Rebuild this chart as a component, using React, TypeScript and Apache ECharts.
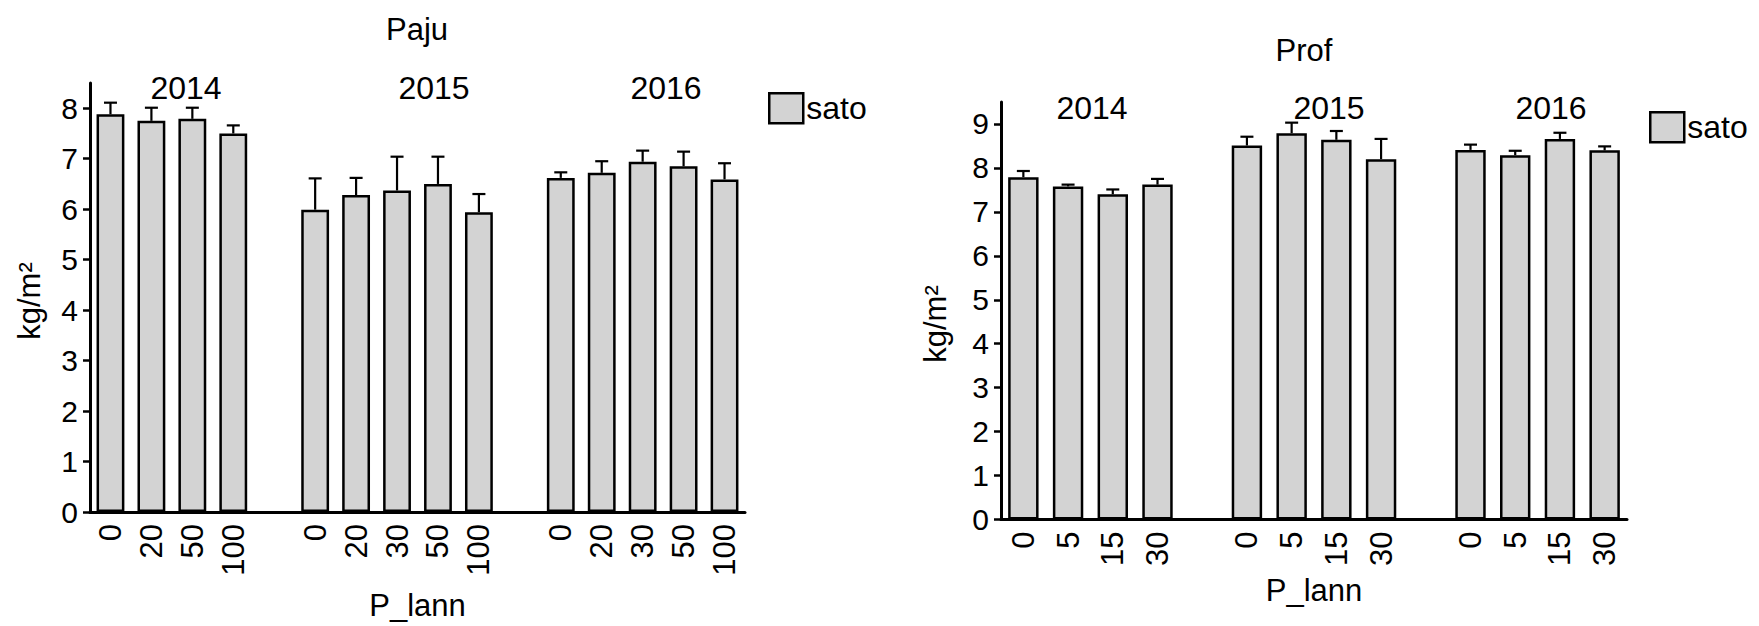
import React, { useEffect, useRef } from 'react';
import * as echarts from 'echarts';

const pajuCategories = ['0', '20', '50', '100', '', '0', '20', '30', '50', '100', '', '0', '20', '30', '50', '100'];
const pajuMeans = [7.88, 7.75, 7.79, 7.5, null, 5.99, 6.28, 6.37, 6.5, 5.94, null, 6.62, 6.72, 6.94, 6.85, 6.59];
const pajuErrors = [0.23, 0.26, 0.22, 0.16, null, 0.62, 0.34, 0.67, 0.54, 0.36, null, 0.11, 0.23, 0.22, 0.29, 0.32];

const profCategories = ['0', '5', '15', '30', '', '0', '5', '15', '30', '', '0', '5', '15', '30'];
const profMeans = [7.79, 7.58, 7.4, 7.62, null, 8.51, 8.79, 8.64, 8.2, null, 8.41, 8.29, 8.66, 8.4];
const profErrors = [0.14, 0.04, 0.11, 0.13, null, 0.2, 0.24, 0.2, 0.46, null, 0.12, 0.1, 0.14, 0.09];

const years = ['2014', '2015', '2016'];
const pajuYTicks = [0, 1, 2, 3, 4, 5, 6, 7, 8];
const profYTicks = [0, 1, 2, 3, 4, 5, 6, 7, 8, 9];
const seriesName = 'sato';
const titles = ['Paju', 'Prof'];
const xName = 'P_lann';
const yName = 'kg/m²';

const FONT = "'Liberation Sans', Arial, Helvetica, sans-serif";
const NARROW = "'Liberation Sans Narrow', 'Arial Narrow', 'Liberation Sans', Arial, sans-serif";
const BAR_FILL = '#d3d3d3';

function errorData(means: (number | null)[], errs: (number | null)[]) {
  const out: number[][] = [];
  means.forEach((m, i) => {
    if (m != null && errs[i] != null) out.push([i, m, errs[i] as number]);
  });
  return out;
}

const renderError = (_params: any, api: any) => {
  const x = api.value(0);
  const m = api.value(1);
  const e = api.value(2);
  const base = api.coord([x, m]);
  const top = api.coord([x, m + e]);
  const cap = 6.5;
  const style = { stroke: '#000', lineWidth: 2.2, fill: 'none' };
  return {
    type: 'group',
    children: [
      { type: 'line', shape: { x1: base[0], y1: base[1], x2: top[0], y2: top[1] }, style },
      { type: 'line', shape: { x1: top[0] - cap, y1: top[1], x2: top[0] + cap, y2: top[1] }, style },
    ],
  };
};

function xAxisCfg(gridIndex: number, data: string[], nameGap: number) {
  return {
    type: 'category',
    gridIndex,
    data,
    name: xName,
    nameLocation: 'middle',
    nameGap,
    nameTextStyle: { fontFamily: FONT, fontSize: 31, color: '#000' },
    axisLine: { lineStyle: { color: '#000', width: 3 } },
    axisTick: { alignWithLabel: true, interval: 0, length: 7, lineStyle: { color: '#000', width: 2.5 } },
    axisLabel: { rotate: 90, interval: 0, margin: 12, fontFamily: FONT, fontSize: 31, color: '#000' },
    splitLine: { show: false },
  };
}

function yAxisCfg(gridIndex: number, max: number, ticks: number[]) {
  return {
    type: 'value',
    gridIndex,
    min: 0,
    max,
    interval: 1,
    axisLine: { show: true, lineStyle: { color: '#000', width: 3 } },
    axisTick: { show: true, length: 7, customValues: ticks, lineStyle: { color: '#000', width: 2.5 } },
    axisLabel: { margin: 12, customValues: ticks, fontFamily: NARROW, fontSize: 30, color: '#000' },
    splitLine: { show: false },
  };
}

function barSeries(idx: number, data: (number | null)[]) {
  return {
    type: 'bar',
    name: seriesName,
    xAxisIndex: idx,
    yAxisIndex: idx,
    data,
    barWidth: '68%',
    itemStyle: { color: BAR_FILL, borderColor: '#000', borderWidth: 2.5 },
    z: 2,
  };
}

function errSeries(idx: number, means: (number | null)[], errs: (number | null)[]) {
  return {
    type: 'custom',
    name: 'err' + idx,
    xAxisIndex: idx,
    yAxisIndex: idx,
    data: errorData(means, errs),
    encode: { x: 0, y: [1, 2] },
    renderItem: renderError,
    z: 3,
    silent: true,
  };
}

function txt(text: string, x: number, y: number, fontSize: number, rotation = 0) {
  return {
    type: 'text',
    x,
    y,
    rotation,
    style: {
      text,
      fontFamily: FONT,
      fontSize,
      fill: '#000',
      align: 'center',
      verticalAlign: 'middle',
    },
  };
}

export default function App() {
  const ref = useRef<HTMLDivElement>(null);
  useEffect(() => {
    document.body.style.margin = '0';
    if (!ref.current) return;
    const chart = echarts.init(ref.current, undefined, { renderer: 'svg' });
    const legendBase = {
      data: [seriesName],
      icon: 'rect',
      itemWidth: 34,
      itemHeight: 30,
      padding: 0,
      itemStyle: { color: BAR_FILL, borderColor: '#000', borderWidth: 2.5 },
      textStyle: { fontFamily: FONT, fontSize: 32, color: '#000', padding: [0, 0, 0, -2] },
      selectedMode: false,
    };
    chart.setOption({
      animation: false,
      backgroundColor: '#fff',
      grid: [
        { left: 90, top: 83, width: 655, height: 436.5 },
        { left: 1001, top: 102, width: 626, height: 417.5 },
      ],
      xAxis: [xAxisCfg(0, pajuCategories, 78), xAxisCfg(1, profCategories, 55)],
      yAxis: [yAxisCfg(0, 8.5, pajuYTicks), yAxisCfg(1, 9.5, profYTicks)],
      legend: [
        { ...legendBase, left: 768, top: 92 },
        { ...legendBase, left: 1649, top: 111 },
      ],
      series: [
        barSeries(0, pajuMeans),
        errSeries(0, pajuMeans, pajuErrors),
        barSeries(1, profMeans),
        errSeries(1, profMeans, profErrors),
      ],
      graphic: [
        txt(titles[0], 417, 29, 31),
        txt(titles[1], 1304, 50, 31),
        txt(years[0], 186, 88, 32),
        txt(years[1], 434, 88, 32),
        txt(years[2], 666, 88, 32),
        txt(years[0], 1092, 108, 32),
        txt(years[1], 1329, 108, 32),
        txt(years[2], 1551, 108, 32),
        txt(yName, 29, 301, 31, Math.PI / 2),
        txt(yName, 935, 324, 31, Math.PI / 2),
      ],
    });
    return () => chart.dispose();
  }, []);
  return <div ref={ref} style={{ width: 1759, height: 626 }} />;
}
